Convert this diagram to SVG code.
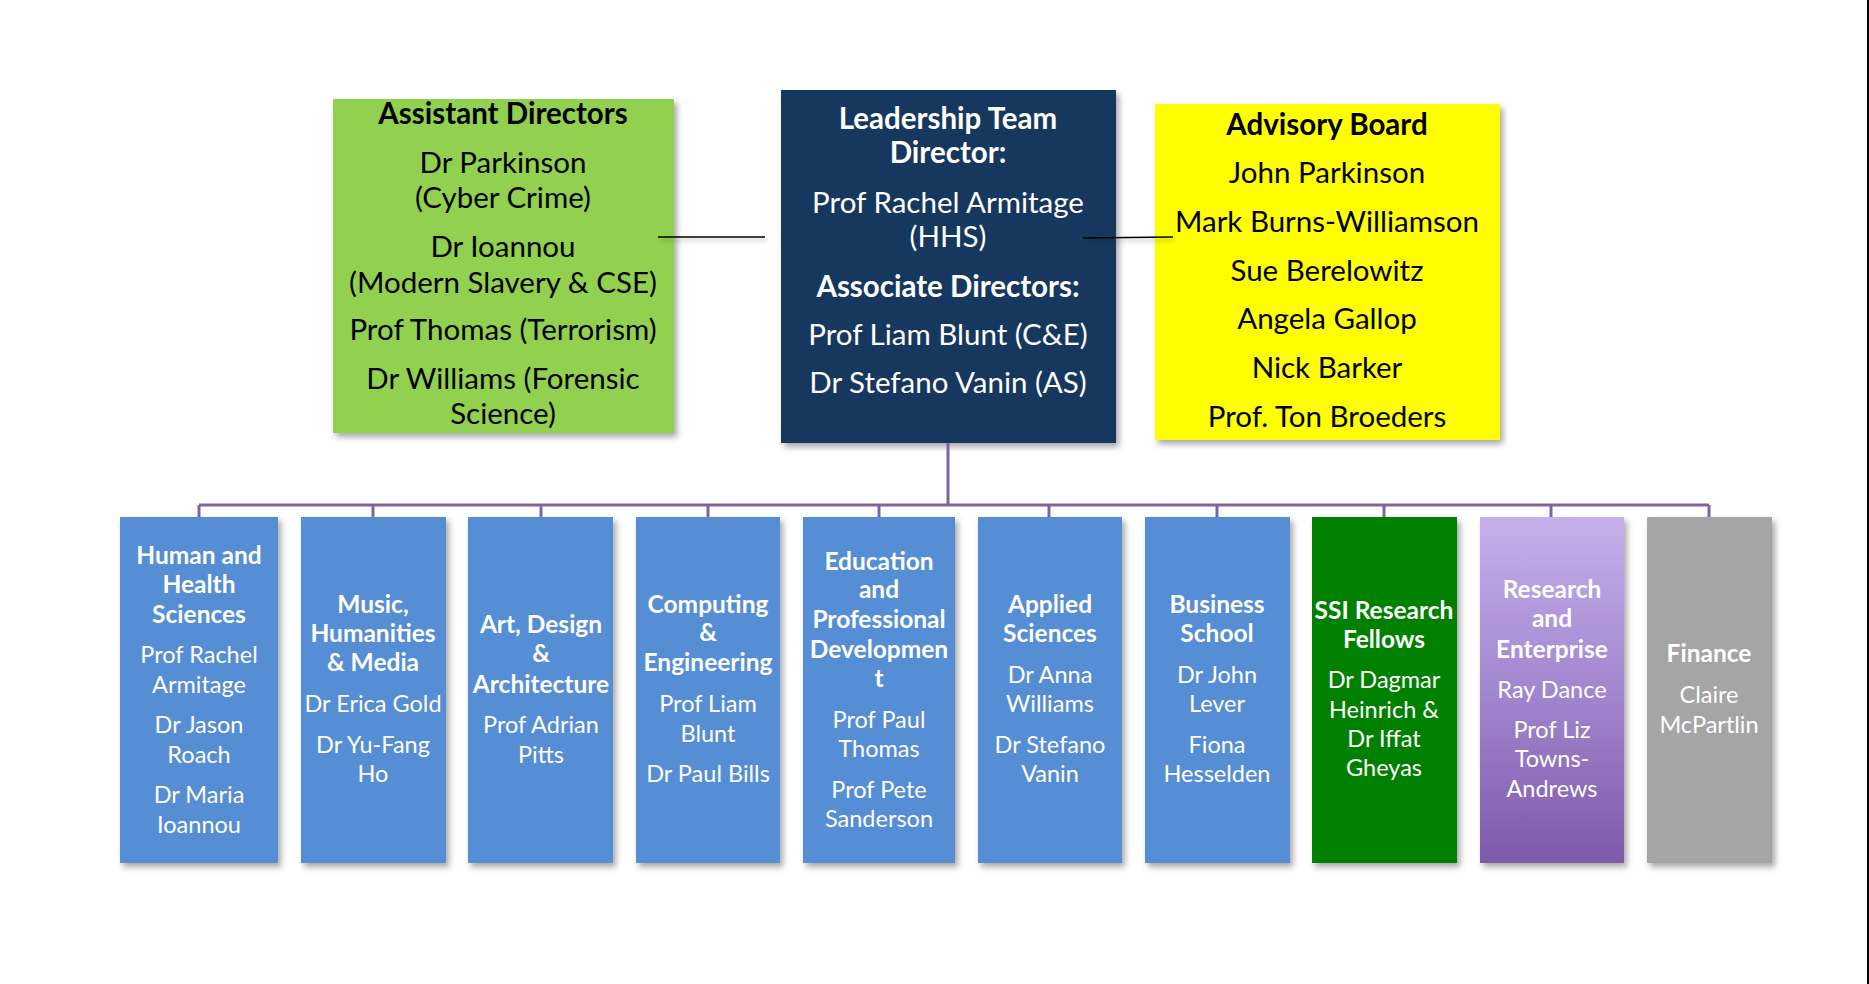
<svg xmlns="http://www.w3.org/2000/svg" width="1869" height="984" viewBox="0 0 1869 984">
<defs>
<filter id="sh" x="-10%" y="-10%" width="125%" height="125%">
<feDropShadow dx="3" dy="4" stdDeviation="3" flood-color="#000" flood-opacity="0.35"/>
</filter>
<filter id="lsh" filterUnits="userSpaceOnUse" x="0" y="0" width="1869" height="984">
<feDropShadow dx="2" dy="3" stdDeviation="2" flood-color="#000" flood-opacity="0.3"/>
</filter>
<linearGradient id="pg" x1="0" y1="0" x2="0" y2="1">
<stop offset="0" stop-color="#C6B0EA"/>
<stop offset="0.5" stop-color="#A286CF"/>
<stop offset="1" stop-color="#7E59A9"/>
</linearGradient>
</defs>
<style>
text{font-family:Lato,"Open Sans","Liberation Sans",sans-serif;text-anchor:middle}
.top{font-size:29.5px}
.b{font-weight:bold}
.dk{fill:#000}
.wt{fill:#fff}
.sm{font-size:23.5px;fill:#fff}
.sm .b{font-size:24.5px}
.box{filter:url(#sh)}
.conn{stroke:#8064A2;stroke-width:3;fill:none}
.ln{stroke:#000;stroke-width:1.5;filter:url(#lsh)}
</style>
<rect x="0" y="0" width="1869" height="984" fill="#fff"/>
<g id="assistant-directors">
<rect class="box" x="333" y="99" width="341" height="334" fill="#92D050"/>
<g class="top dk">
<text x="503" y="124" class="b">Assistant Directors</text>
<text x="503" y="173">Dr Parkinson</text>
<text x="503" y="208">(Cyber Crime)</text>
<text x="503" y="257">Dr Ioannou</text>
<text x="503" y="293">(Modern Slavery &amp; CSE)</text>
<text x="503" y="340">Prof Thomas (Terrorism)</text>
<text x="503" y="389">Dr Williams (Forensic</text>
<text x="503" y="424">Science)</text>
</g>
</g>
<g id="leadership-team">
<rect class="box" x="781" y="90" width="335" height="353" fill="#17375E"/>
<g class="top wt">
<text x="948" y="129" class="b">Leadership Team</text>
<text x="948" y="163" class="b">Director:</text>
<text x="948" y="213">Prof Rachel Armitage</text>
<text x="948" y="247">(HHS)</text>
<text x="948" y="297" class="b">Associate Directors:</text>
<text x="948" y="345">Prof Liam Blunt (C&amp;E)</text>
<text x="948" y="393">Dr Stefano Vanin (AS)</text>
</g>
</g>
<g id="advisory-board">
<rect class="box" x="1155" y="104" width="345" height="336" fill="#FFFF00"/>
<g class="top dk">
<text x="1327" y="135" class="b">Advisory Board</text>
<text x="1327" y="183">John Parkinson</text>
<text x="1327" y="232">Mark Burns-Williamson</text>
<text x="1327" y="281">Sue Berelowitz</text>
<text x="1327" y="329">Angela Gallop</text>
<text x="1327" y="378">Nick Barker</text>
<text x="1327" y="427">Prof. Ton Broeders</text>
</g>
</g>
<g id="hhs">
<rect class="box" x="120" y="517" width="158" height="346" fill="#558ED5"/>
<g class="sm">
<text x="199" y="564" class="b">Human and</text>
<text x="199" y="593" class="b">Health</text>
<text x="199" y="623" class="b">Sciences</text>
<text x="199" y="663">Prof Rachel</text>
<text x="199" y="693">Armitage</text>
<text x="199" y="733">Dr Jason</text>
<text x="199" y="763">Roach</text>
<text x="199" y="803">Dr Maria</text>
<text x="199" y="833">Ioannou</text>
</g>
</g>
<g id="mhm">
<rect class="box" x="301" y="517" width="145" height="346" fill="#558ED5"/>
<g class="sm">
<text x="373" y="613" class="b">Music,</text>
<text x="373" y="642" class="b">Humanities</text>
<text x="373" y="671" class="b">&amp; Media</text>
<text x="373" y="712">Dr Erica Gold</text>
<text x="373" y="753">Dr Yu-Fang</text>
<text x="373" y="782">Ho</text>
</g>
</g>
<g id="ada">
<rect class="box" x="468" y="517" width="145" height="346" fill="#558ED5"/>
<g class="sm">
<text x="541" y="633" class="b">Art, Design</text>
<text x="541" y="662" class="b">&amp;</text>
<text x="541" y="693" class="b">Architecture</text>
<text x="541" y="733">Prof Adrian</text>
<text x="541" y="763">Pitts</text>
</g>
</g>
<g id="ce">
<rect class="box" x="636" y="517" width="144" height="346" fill="#558ED5"/>
<g class="sm">
<text x="708" y="613" class="b">Computing</text>
<text x="708" y="641" class="b">&amp;</text>
<text x="708" y="671" class="b">Engineering</text>
<text x="708" y="712">Prof Liam</text>
<text x="708" y="742">Blunt</text>
<text x="708" y="782">Dr Paul Bills</text>
</g>
</g>
<g id="epd">
<rect class="box" x="803" y="517" width="152" height="346" fill="#558ED5"/>
<g class="sm">
<text x="879" y="570" class="b">Education</text>
<text x="879" y="598" class="b">and</text>
<text x="879" y="628" class="b">Professional</text>
<text x="879" y="658" class="b">Developmen</text>
<text x="879" y="687" class="b">t</text>
<text x="879" y="728">Prof Paul</text>
<text x="879" y="757">Thomas</text>
<text x="879" y="798">Prof Pete</text>
<text x="879" y="827">Sanderson</text>
</g>
</g>
<g id="as">
<rect class="box" x="978" y="517" width="144" height="346" fill="#558ED5"/>
<g class="sm">
<text x="1050" y="613" class="b">Applied</text>
<text x="1050" y="642" class="b">Sciences</text>
<text x="1050" y="683">Dr Anna</text>
<text x="1050" y="712">Williams</text>
<text x="1050" y="753">Dr Stefano</text>
<text x="1050" y="782">Vanin</text>
</g>
</g>
<g id="bs">
<rect class="box" x="1145" y="517" width="145" height="346" fill="#558ED5"/>
<g class="sm">
<text x="1217" y="613" class="b">Business</text>
<text x="1217" y="642" class="b">School</text>
<text x="1217" y="683">Dr John</text>
<text x="1217" y="712">Lever</text>
<text x="1217" y="753">Fiona</text>
<text x="1217" y="782">Hesselden</text>
</g>
</g>
<g id="ssi">
<rect class="box" x="1312" y="517" width="145" height="346" fill="#008000"/>
<g class="sm">
<text x="1384" y="619" class="b">SSI Research</text>
<text x="1384" y="648" class="b">Fellows</text>
<text x="1384" y="688">Dr Dagmar</text>
<text x="1384" y="718">Heinrich &amp;</text>
<text x="1384" y="747">Dr Iffat</text>
<text x="1384" y="776">Gheyas</text>
</g>
</g>
<g id="re">
<rect class="box" x="1480" y="517" width="144" height="346" fill="url(#pg)"/>
<g class="sm">
<text x="1552" y="598" class="b">Research</text>
<text x="1552" y="627" class="b">and</text>
<text x="1552" y="658" class="b">Enterprise</text>
<text x="1552" y="698">Ray Dance</text>
<text x="1552" y="738">Prof Liz</text>
<text x="1552" y="767">Towns-</text>
<text x="1552" y="797">Andrews</text>
</g>
</g>
<g id="finance">
<rect class="box" x="1647" y="517" width="125" height="346" fill="#A5A5A5"/>
<g class="sm">
<text x="1709" y="662" class="b">Finance</text>
<text x="1709" y="703">Claire</text>
<text x="1709" y="733">McPartlin</text>
</g>
</g>
<g id="connectors">
<line class="ln" x1="658" y1="237" x2="765" y2="237"/>
<line class="ln" x1="1083" y1="238" x2="1173" y2="237"/>
<path class="conn" d="M948 443 V505 M199 505 H1709 M199 505 V517 M373 505 V517 M541 505 V517 M708 505 V517 M879 505 V517 M1049 505 V517 M1217 505 V517 M1384 505 V517 M1551 505 V517 M1709 505 V517"/>
</g>
<line x1="1868" y1="0" x2="1868" y2="984" stroke="#000" stroke-width="2"/>
</svg>
